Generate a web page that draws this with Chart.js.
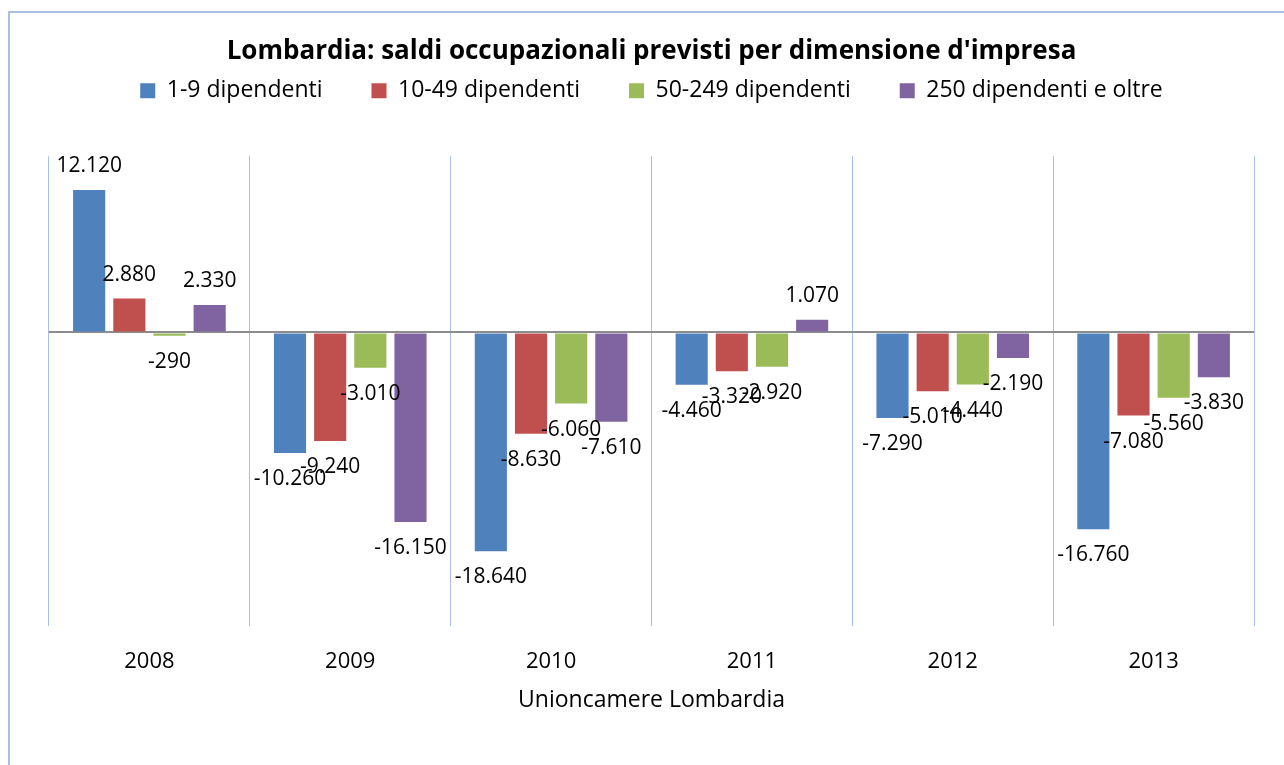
<!DOCTYPE html>
<html>
<head>
<meta charset="utf-8">
<script src="https://cdn.jsdelivr.net/npm/chart.js@4.4.0/dist/chart.umd.min.js"></script>
<style>
    body { margin: 0; background: #fff; overflow: hidden; }
    #frame { position: absolute; left: 8px; top: 11px; width: 1400px; height: 900px; border: 2px solid #a9bfe6; }
    #wrap { position: absolute; left: 0; top: 0; width: 1284px; height: 765px; }
</style>
</head>
<body>
<div id="frame"></div>
<div id="wrap"><canvas id="myChart" width="1284" height="765"></canvas></div>
<script>
const anni = ["2008", "2009", "2010", "2011", "2012", "2013"];
const serieNomi = ["1-9 dipendenti", "10-49 dipendenti", "50-249 dipendenti", "250 dipendenti e oltre"];
const dip1_9 = [12120, -10260, -18640, -4460, -7290, -16760];
const dip10_49 = [2880, -9240, -8630, -3320, -5010, -7080];
const dip50_249 = [-290, -3010, -6060, -2920, -4440, -5560];
const dip250 = [2330, -16150, -7610, 1070, -2190, -3830];
const colori = ["#4f81bd", "#c0504d", "#9bbb59", "#8064a2"];

const font = "'Open Sans', 'Noto Sans', sans-serif";

function formatta(v) {
    const s = Math.abs(v).toString().replace(/\B(?=(\d{3})+(?!\d))/g, ".");
    return (v < 0 ? "-" : "") + s;
}

// etichette dati sopra/sotto le barre
const etichette = {
    id: "etichette",
    afterDatasetsDraw(chart) {
        const ctx = chart.ctx;
        ctx.save();
        ctx.font = "21px " + font;
        ctx.fillStyle = "#000";
        ctx.textAlign = "center";
        ctx.textBaseline = "middle";
        chart.data.datasets.forEach((ds, i) => {
            chart.getDatasetMeta(i).data.forEach((bar, j) => {
                const v = ds.data[j];
                const y = v >= 0 ? bar.y - 24 : bar.y + 26;
                ctx.fillText(formatta(v), bar.x, y);
            });
        });
        ctx.restore();
    }
};

const serie = [dip1_9, dip10_49, dip50_249, dip250];

new Chart(document.getElementById("myChart"), {
    type: "bar",
    data: {
        labels: anni,
        datasets: serie.map((d, i) => ({
            label: serieNomi[i],
            data: d,
            backgroundColor: colori[i],
            categoryPercentage: 0.8,
            barPercentage: 0.8
        }))
    },
    options: {
        responsive: false,
        animation: false,
        layout: { padding: { top: 26, left: 49, right: 30, bottom: 51 } },
        plugins: {
            title: {
                display: true,
                text: "Lombardia: saldi occupazionali previsti per dimensione d'impresa",
                color: "#000",
                font: { family: font, size: 26, weight: "bold" },
                padding: { top: 10, bottom: -37 }
            },
            legend: {
                labels: {
                    color: "#000",
                    font: { family: font, size: 23 },
                    boxWidth: 15,
                    boxHeight: 15,
                    padding: 49
                }
            },
            tooltip: { enabled: false }
        },
        scales: {
            x: {
                grid: { color: "#a7bee6", lineWidth: 1, drawTicks: false },
                border: { display: false },
                ticks: { color: "#000", padding: 23, font: { family: font, size: 22 } },
                title: {
                    display: true,
                    text: "Unioncamere Lombardia",
                    color: "#000",
                    font: { family: font, size: 23 },
                    padding: { top: -12, bottom: 0 }
                }
            },
            spazio: {
                type: "category",
                position: "top",
                grid: { display: false },
                border: { display: false },
                ticks: { display: false },
                afterFit(scale) { scale.height = 44; }
            },
            y: {
                min: -25000,
                max: 15000,
                ticks: { display: false, stepSize: 5000 },
                border: { display: false },
                grid: {
                    drawTicks: false,
                    lineWidth: 2,
                    color: c => c.tick.value === 0 ? "#8c8c8c" : "transparent"
                }
            }
        }
    },
    plugins: [etichette]
});
</script>
</body>
</html>
